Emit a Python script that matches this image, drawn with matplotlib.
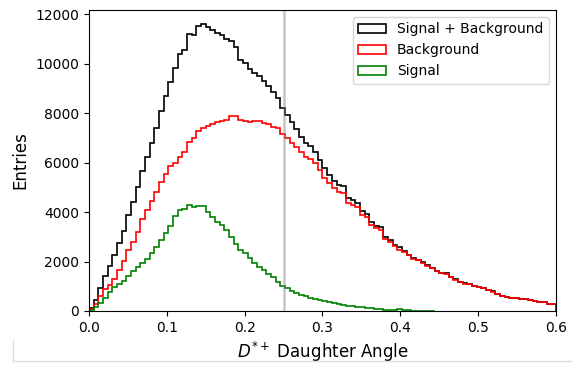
import numpy as np
import matplotlib
matplotlib.use("Agg")
import matplotlib.pyplot as plt
from matplotlib.lines import Line2D

# bin edges: 100 bins over [0, 0.6]
n_bins = 100
x_max = 0.6
edges = np.linspace(0, x_max, n_bins + 1)

# entries per bin
total = [140, 450, 930, 1420, 1820, 2270, 2750, 3250, 3870, 4410,
         5000, 5670, 6220, 6790, 7390, 8110, 8710, 9270, 9850, 10400,
         10550, 11200, 11150, 11520, 11620, 11510, 11370, 11230, 11180, 11010,
         10910, 10700, 10150, 10030, 9800, 9630, 9500, 9300, 9100, 8850,
         8620, 8200, 7920, 7650, 7370, 7050, 6800, 6680, 6420, 6120,
         5780, 5500, 5260, 5090, 5040, 4560, 4480, 4380, 4050, 3930,
         3600, 3440, 3380, 2980, 2870, 2670, 2590, 2430, 2280, 2140,
         2070, 1970, 1845, 1745, 1620, 1550, 1520, 1380, 1290, 1180,
         1140, 1090, 1000, 980, 915, 850, 810, 700, 620, 550,
         520, 510, 505, 500, 450, 420, 380, 375, 300, 285]

background = [100, 300, 610, 880, 1050, 1290, 1660, 2030, 2460, 2800,
              3200, 3730, 4100, 4450, 4820, 5230, 5560, 5850, 5980, 6250,
              6450, 6850, 7000, 7300, 7420, 7500, 7560, 7650, 7700, 7720,
              7880, 7880, 7720, 7700, 7650, 7700, 7700, 7620, 7560, 7450,
              7420, 7180, 6980, 6800, 6640, 6440, 6240, 6170, 5970, 5700,
              5400, 5160, 4960, 4820, 4780, 4350, 4280, 4210, 3900, 3800,
              3480, 3360, 3290, 2900, 2810, 2620, 2480, 2400, 2250, 2120,
              2050, 1950, 1830, 1730, 1620, 1550, 1490, 1380, 1260, 1180,
              1110, 1090, 1000, 980, 915, 850, 780, 700, 620, 550,
              520, 510, 505, 500, 450, 390, 380, 375, 300, 285]

signal = [40, 150, 320, 540, 770, 980, 1090, 1220, 1410, 1610,
          1800, 1940, 2120, 2340, 2570, 2880, 3150, 3420, 3850, 4080,
          4110, 4280, 4215, 4240, 4240, 4010, 3810, 3610, 3470, 3270,
          3000, 2730, 2460, 2330, 2130, 1930, 1790, 1650, 1480, 1380,
          1190, 1000, 920, 800, 720, 650, 590, 540, 490, 440,
          410, 370, 330, 290, 250, 220, 200, 170, 150, 130,
          110, 85, 75, 60, 50, 40, 100, 25, 22, 20,
          18, 15, 12, 10]

series = [("Signal + Background", total, "k"),
          ("Background", background, "r"),
          ("Signal", signal, "g")]

cut = 0.25

fig = plt.figure(figsize=(5.72, 3.67), dpi=100)
ax = fig.add_axes([0.1556, 0.1526, 0.972 - 0.1556, 0.9728 - 0.1526])

for label, vals, col in series:
    e = edges[:len(vals) + 1]
    ax.hist(e[:-1], bins=e, weights=vals, histtype="step", color=col,
            lw=1.2, label=label)

ax.axvline(cut, color="grey", alpha=0.45, lw=1.8)

ax.set_xlim(0, x_max)
ax.set_ylim(0, 12180)
ax.tick_params(labelsize=10)
ax.set_xlabel(r"$D^{*+}$ Daughter Angle", fontsize=12)
ax.set_ylabel("Entries", fontsize=12)
ax.legend(loc="upper right", fontsize=10)

# faint cell border from the screenshot
fig.add_artist(Line2D([13 / 572, 1], [1 - 361 / 367] * 2, color="#dedede", lw=1))
fig.add_artist(Line2D([13 / 572] * 2, [1 - 361 / 367, 1 - 340 / 367], color="#dedede", lw=1))

fig.savefig("out.png", dpi=100)
